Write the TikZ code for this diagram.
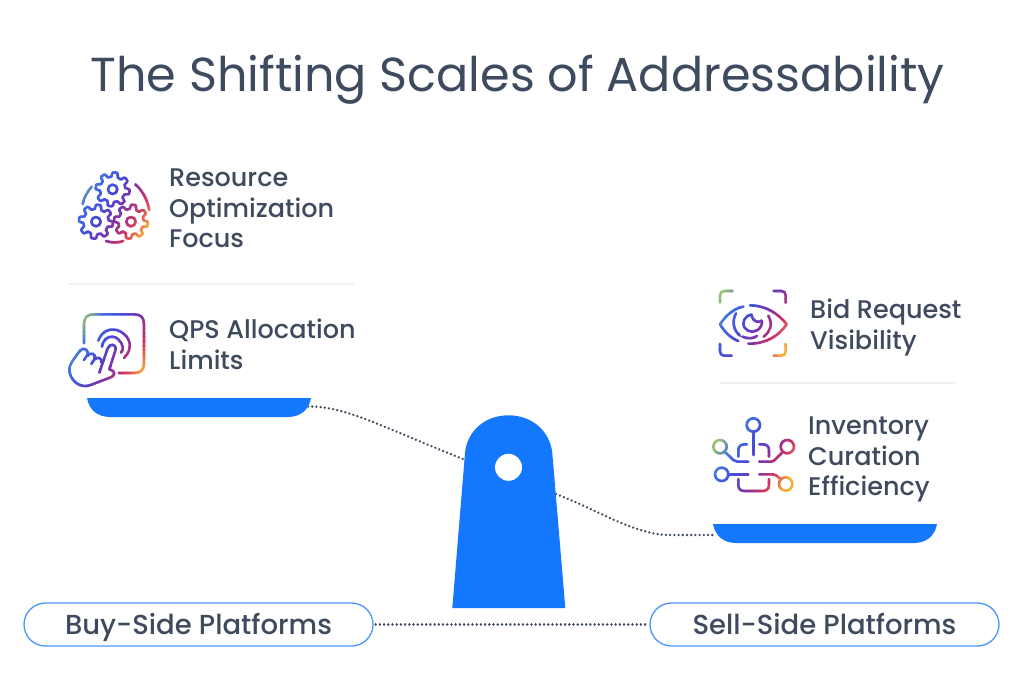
\documentclass[tikz,border=0pt]{standalone}
\usepackage{fontspec}
\setmainfont{Poppins}
\newfontfamily\medfont{Poppins Medium}
\usetikzlibrary{calc}
\definecolor{inktext}{HTML}{3E4A5E}
\definecolor{panblue}{HTML}{1478FF}
\definecolor{pillblue}{HTML}{4A94FF}
\definecolor{dotink}{HTML}{3E4A5E}
\definecolor{sepline}{HTML}{F0F2F8}
\tikzset{
  x=1pt,y=-1pt,
  titletext/.style={font=\fontsize{47.7}{54}\selectfont,text=inktext,inner sep=0pt},
  lbl/.style={font=\medfont\fontsize{25.5}{30.7}\selectfont,text=inktext,inner sep=0pt,align=left,anchor=north west},
  pill/.style={draw=pillblue,line width=1.3pt,fill=white,rounded corners=21.5pt,minimum width=349pt,minimum height=43pt,inner sep=0pt,text height=25pt,text depth=6pt,font=\medfont\fontsize{27.5}{30}\selectfont,text=inktext},
  dotline/.style={draw=dotink,line width=2.6pt,line cap=round,dash pattern=on 0.01pt off 4.2pt},
  sep/.style={draw=sepline,line width=1.6pt},
  ic/.style={draw=bandc,line width=2.6pt,line cap=round,line join=round},
}
% gradient stroke: #1,#2 = range of u=x+0.6y in icon units, #3 = drawing code
\newcommand\gradicon[3]{%
  \foreach \bandi in {0,...,35}{%
    \pgfmathsetmacro\bt{(\bandi+0.5)/36}%
    \pgfmathtruncatemacro\bidx{min(floor(\bt*5),4)}%
    \pgfmathsetmacro\bf{\bt*5-\bidx}%
    \pgfmathsetmacro\br{{0.62,0.24,0.27,0.50,0.82,0.98}[\bidx]*(1-\bf)+{0.62,0.24,0.27,0.50,0.82,0.98}[\bidx+1]*\bf}%
    \pgfmathsetmacro\bg{{0.78,0.42,0.30,0.20,0.20,0.72}[\bidx]*(1-\bf)+{0.78,0.42,0.30,0.20,0.20,0.72}[\bidx+1]*\bf}%
    \pgfmathsetmacro\bb{{0.42,0.90,0.85,0.66,0.38,0.22}[\bidx]*(1-\bf)+{0.42,0.90,0.85,0.66,0.38,0.22}[\bidx+1]*\bf}%
    \definecolor{bandc}{rgb}{\br,\bg,\bb}%
    \pgfmathsetmacro\sa{#1+(#2-#1)*\bandi/36-(\bandi==0)*300}%
    \pgfmathsetmacro\sb{#1+(#2-#1)*(\bandi+1)/36+1.5+(\bandi==35)*300}%
    \begin{scope}
      \clip (\sa+600,-1000) -- (\sb+600,-1000) -- (\sb-600,1000) -- (\sa-600,1000) -- cycle;
      #3
    \end{scope}
  }%
}
\newcommand\gear[2]{%
  \draw[ic] plot[samples=121,domain=0:360,variable=\q] ({#1+(44.5+6.5*max(-1,min(1,2.2*sin(8*\q+20))))*cos(\q)},{#2+(44.5+6.5*max(-1,min(1,2.2*sin(8*\q+20))))*sin(\q)}) -- cycle;
  \draw[ic] (#1,#2) circle[radius=14];
}
\begin{document}
\begin{tikzpicture}
\useasboundingbox (0,0) rectangle (1024,688);
\fill[white] (0,0) rectangle (1024,688);

\node[titletext] (title) at (517.5,79.5) {The Shifting Scales of Addressability};

% labels
\node[lbl] (l1) at (169,168.5) {Resource\\Optimization\\Focus};
\node[lbl] (l2) at (169,318.8) {QPS Allocation\\Limits};
\node[lbl] (l3) at (810,298.7) {Bid Request\\Visibility};
\node[lbl] (l4) at (808,416.6) {Inventory\\Curation\\Efficiency};

% separators
\coordinate (s1a) at (68,284); \coordinate (s1b) at (354,284);
\coordinate (s2a) at (719,383); \coordinate (s2b) at (956,383);
\draw[sep] (s1a) -- (s1b);
\draw[sep] (s2a) -- (s2b);

% named ends for connectors
\coordinate (panLend) at (308,406.5);
\coordinate (panRend) at (714,535);
\coordinate (standL) at (463,459);
\coordinate (standR) at (556,494);

% dotted connectors
\draw[dotline] (panLend) .. controls (345,406) and (380,426) .. (standL);
\draw[dotline] (standR) .. controls (600,511) and (635,535) .. (670,535) -- (panRend);

% pans
\fill[panblue] (87,398) -- (311,398) .. controls (309,410) and (300,417) .. (288,417) -- (110,417) .. controls (98,417) and (89,410) .. (87,398) -- cycle;
\fill[panblue] (713,524) -- (937,524) .. controls (935,536) and (926,543) .. (914,543) -- (736,543) .. controls (724,543) and (715,536) .. (713,524) -- cycle;

% stand
\fill[panblue] (452.3,608) -- (465,453) .. controls (467,431) and (485,415.3) .. (508.5,415.3) .. controls (532,415.3) and (550,431) .. (552.3,453) -- (565.3,608) -- cycle;
\fill[white] (508.5,467.3) circle[radius=13.5];

% pills
\node[pill] (pillL) at (198.5,624.5) {Buy-Side Platforms};
\node[pill] (pillR) at (824.5,624.5) {Sell-Side Platforms};
\path (pillL.east) ++(2,0) coordinate (pL) (pillR.west) ++(-2,0) coordinate (pR);
\draw[dotline] (pL) -- (pR);

% gears icon
\begin{scope}[shift={(60,160)},x=0.3333pt,y=-0.3333pt]
\gradicon{100}{390}{
  \gear{158}{88}
  \gear{108}{185}
  \gear{213}{185}
  \draw[ic] (68,132) .. controls (72,112) and (82,95) .. (95,80);
  \draw[ic] (226,73) .. controls (246,90) and (262,118) .. (268,150);
  \draw[ic] (138,243) .. controls (155,249) and (175,249) .. (190,243);
}
\end{scope}

% hand icon
\begin{scope}[shift={(60,300)},x=0.3333pt,y=-0.3333pt]
\gradicon{100}{385}{
  \draw[ic] (72,130) -- (72,72) .. controls (72,52) and (82,43) .. (102,43) -- (222,43) .. controls (242,43) and (252,52) .. (252,72) -- (252,190) .. controls (252,210) and (242,219) .. (222,219) -- (176,219);
  \draw[ic] (115,122) .. controls (125,92) and (155,80) .. (182,95) .. controls (210,110) and (222,145) .. (192,174);
  \draw[ic] (126,140) .. controls (128,115) and (155,100) .. (175,118) .. controls (190,132) and (192,150) .. (183,158);
  \draw[ic] (118,218) -- (143,145) .. controls (150,128) and (172,132) .. (166,152) -- (148,208) -- (153,210) .. controls (167,214) and (165,228) .. (152,232) -- (92,255) .. controls (60,268) and (28,240) .. (28,208) .. controls (28,195) and (35,185) .. (60,152) .. controls (70,138) and (92,152) .. (80,168) -- (72,180);
  \draw[ic] (82,168) .. controls (90,155) and (110,160) .. (103,178) -- (94,192);
  \draw[ic] (105,178) .. controls (112,168) and (128,175) .. (124,188);
}
\end{scope}

% eye icon
\begin{scope}[shift={(705,280)},x=0.3333pt,y=-0.3333pt]
\gradicon{75}{370}{
  \draw[ic] (45,68) -- (45,46) .. controls (45,38) and (50,33) .. (58,33) -- (83,33);
  \draw[ic] (206,33) -- (229,33) .. controls (237,33) and (242,38) .. (242,46) -- (242,68);
  \draw[ic] (45,192) -- (45,214) .. controls (45,222) and (50,227) .. (58,227) -- (80,227);
  \draw[ic] (206,227) -- (229,227) .. controls (237,227) and (242,222) .. (242,214) -- (242,192);
  \draw[ic] (115,80) .. controls (85,85) and (60,110) .. (45,133) .. controls (58,155) and (78,175) .. (100,183);
  \draw[ic] (135,76) .. controls (180,76) and (220,100) .. (245,133) .. controls (220,170) and (180,192) .. (130,191);
  \draw[ic] (93,100) .. controls (80,125) and (85,150) .. (105,167);
  \draw[ic] (112,170) .. controls (128,177) and (145,176) .. (156,168);
  \draw[ic] (190,107) .. controls (205,135) and (195,155) .. (176,170);
  \draw[ic] (140,104) .. controls (118,106) and (110,130) .. (118,142) .. controls (128,160) and (158,160) .. (168,138) .. controls (172,130) and (172,128) .. (170,122) .. controls (160,130) and (142,125) .. (140,104) -- cycle;
}
\end{scope}

% circuit icon
\begin{scope}[shift={(700,405)},x=0.3333pt,y=-0.3333pt]
\gradicon{120}{405}{
  \draw[ic] (160,60) circle[radius=20];
  \draw[ic] (160,80) -- (160,150);
  \draw[ic] (115,155) -- (115,136) .. controls (115,124) and (122,118) .. (134,118) -- (141,118);
  \draw[ic] (178,118) -- (188,118) .. controls (200,118) and (207,124) .. (207,136) -- (207,155);
  \draw[ic] (60,125) circle[radius=20];
  \draw[ic] (75,141) -- (100,165) .. controls (104,169) and (106,170) .. (112,170) -- (145,170);
  \draw[ic] (262,125) circle[radius=20];
  \draw[ic] (248,141) -- (224,165) .. controls (220,169) and (216,170) .. (212,170) -- (178,170);
  \draw[ic] (65,208) circle[radius=20];
  \draw[ic] (85,208) -- (145,208);
  \draw[ic] (178,208) -- (218,208) .. controls (226,208) and (230,212) .. (241,222);
  \draw[ic] (257,237) circle[radius=20];
  \draw[ic] (115,222) -- (115,240) .. controls (115,252) and (122,258) .. (134,258) -- (188,258) .. controls (200,258) and (207,252) .. (207,240) -- (207,222);
}
\end{scope}
\end{tikzpicture}
\end{document}
